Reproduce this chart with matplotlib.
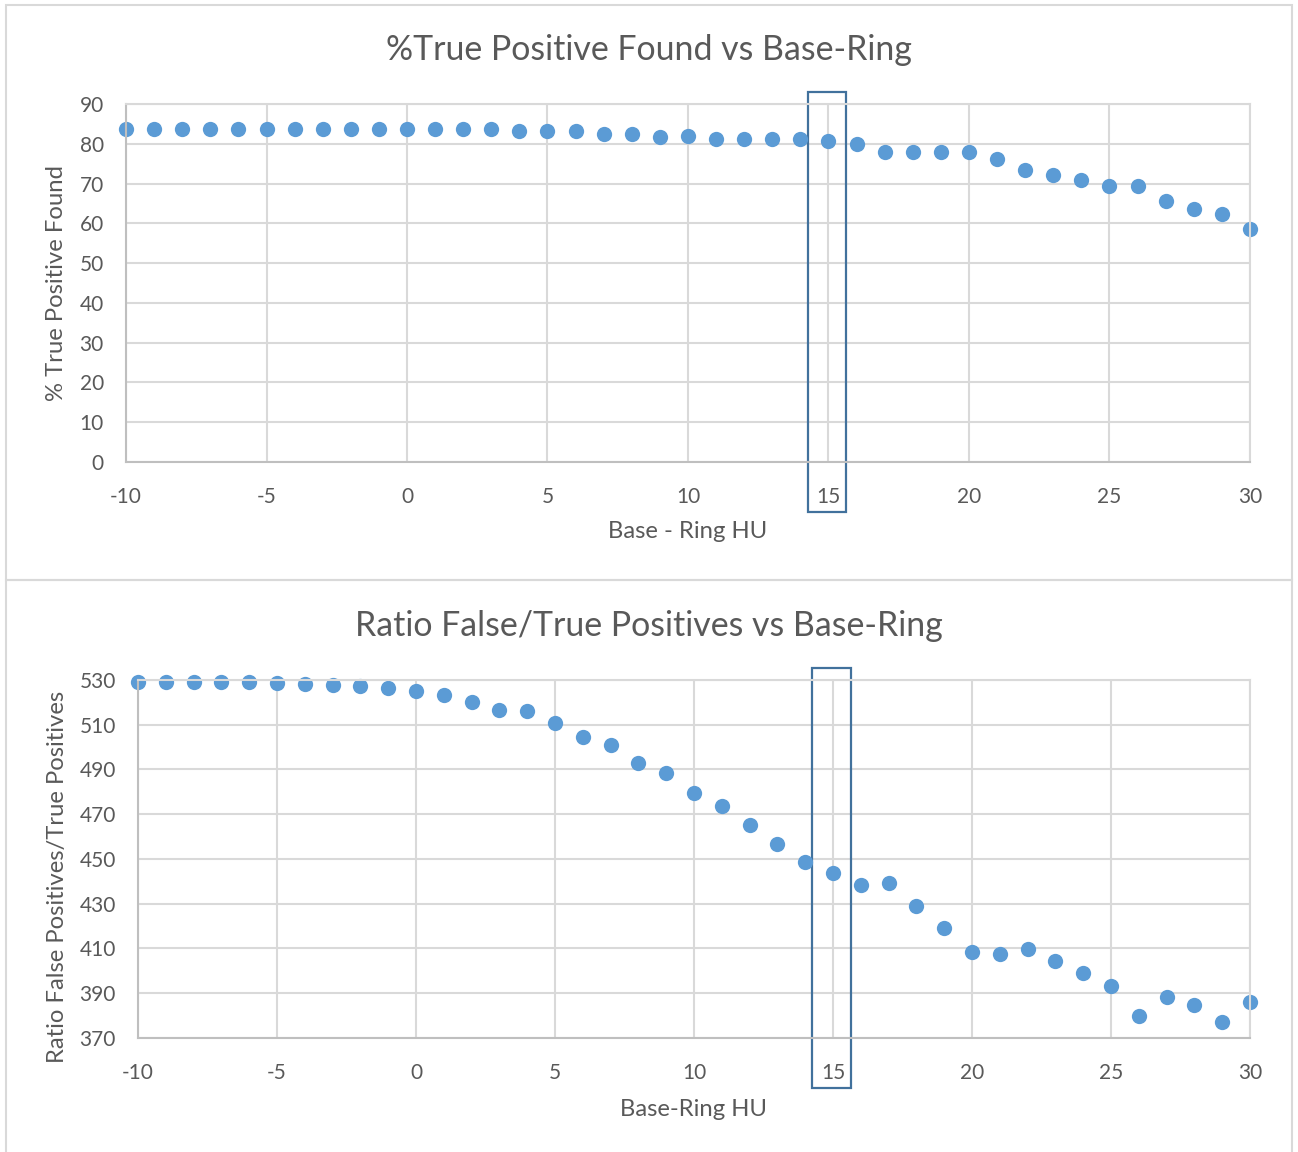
import numpy as np
import matplotlib.pyplot as plt
from matplotlib.patches import Rectangle

plt.rcParams['font.family'] = ['Lato', 'DejaVu Sans']
plt.rcParams['axes.unicode_minus'] = False

# Base - Ring HU values
base_ring = list(range(-10, 31))

# % true positives found
pct_true_pos = [83.7, 83.7, 83.7, 83.7, 83.7, 83.7, 83.7, 83.7, 83.7, 83.7,
                83.7, 83.7, 83.7, 83.7, 83.1, 83.1, 83.1, 82.5, 82.5, 81.8,
                81.9, 81.2, 81.2, 81.2, 81.2, 80.6, 79.9, 77.9, 77.9, 77.9,
                77.9, 76.1, 73.5, 72.1, 70.9, 69.5, 69.5, 65.6, 63.7, 62.3,
                58.5]

# ratio false / true positives
ratio_fp_tp = [529.0, 529.0, 529.0, 529.0, 529.0, 528.8, 528.4, 527.9, 527.3, 526.3,
               524.9, 523.2, 520.3, 516.4, 516.3, 510.9, 504.7, 500.8, 492.9, 488.4,
               479.3, 473.8, 465.0, 456.6, 448.5, 443.9, 438.2, 439.4, 429.1, 419.0,
               408.3, 407.7, 409.9, 404.5, 399.2, 393.2, 380.0, 388.2, 384.6, 377.1,
               386.2]

TEXT = '#595959'
GRID = '#D9D9D9'
DOT = '#5B9BD5'
BOX = '#41719C'

W, H = 1298, 1152
fig = plt.figure(figsize=(W / 100, H / 100), dpi=100)


def px_axes(left, top, right, bottom):
    return fig.add_axes([left / W, 1 - bottom / H, (right - left) / W, (bottom - top) / H])


def style(ax, ylo, yhi, ystep):
    ax.set_xlim(-10, 30)
    ax.set_ylim(ylo, yhi)
    ax.set_xticks(range(-10, 31, 5))
    ax.set_yticks(np.arange(ylo, yhi + 1, ystep))
    ax.grid(True, color=GRID, lw=1.5)
    ax.set_axisbelow(True)
    for s in ['top', 'right']:
        ax.spines[s].set_color(GRID)
        ax.spines[s].set_linewidth(1.5)
    for s in ['left', 'bottom']:
        ax.spines[s].set_color('#BFBFBF')
        ax.spines[s].set_linewidth(1.5)
    ax.tick_params(length=0, labelsize=15, colors=TEXT)
    ax.tick_params(axis='x', pad=18)
    ax.tick_params(axis='y', pad=16)


# outer chart borders
fig.patches.append(Rectangle((6 / W, 1 - 580 / H), 1286 / W, 575 / H,
                             transform=fig.transFigure, fill=False, ec=GRID, lw=1.5))
fig.patches.append(Rectangle((6 / W, -0.01), 1286 / W, 1 - 580 / H + 0.01,
                             transform=fig.transFigure, fill=False, ec=GRID, lw=1.5))

# top chart
ax1 = px_axes(126, 104, 1250, 462)
style(ax1, 0, 90, 10)
ax1.plot(base_ring, pct_true_pos, 'o', color=DOT, ms=11, mew=0, clip_on=False)
ax1.add_patch(Rectangle((14.27, -12.6), 1.35, 105.6, fill=False, ec=BOX, lw=1.6, clip_on=False))
ax1.set_xlabel('Base - Ring HU', fontsize=17.2, color=TEXT, va='center')
ax1.set_ylabel('% True Positive Found', fontsize=17.2, color=TEXT, va='center')
ax1.xaxis.set_label_coords(0.5, -0.1955)
ax1.yaxis.set_label_coords(-0.0614, 0.5)
fig.text(0.5, 1 - 50 / H, '%True Positive Found vs Base-Ring', fontsize=24.4,
         color=TEXT, ha='center', va='center')

# bottom chart
ax2 = px_axes(138, 680, 1250, 1038)
style(ax2, 370, 530, 20)
ax2.plot(base_ring, ratio_fp_tp, 'o', color=DOT, ms=11, mew=0, clip_on=False)
ax2.add_patch(Rectangle((14.24, 347.7), 1.41, 187.7, fill=False, ec=BOX, lw=1.6, clip_on=False))
ax2.set_xlabel('Base-Ring HU', fontsize=17.2, color=TEXT, va='center')
ax2.set_ylabel('Ratio False Positives/True Positives', fontsize=17.2, color=TEXT, va='center')
ax2.xaxis.set_label_coords(0.5, -0.2)
ax2.yaxis.set_label_coords(-0.0728, 0.45)
fig.text(0.5, 1 - 626 / H, 'Ratio False/True Positives vs Base-Ring', fontsize=24.4,
         color=TEXT, ha='center', va='center')

fig.savefig('out.png', dpi=100)
